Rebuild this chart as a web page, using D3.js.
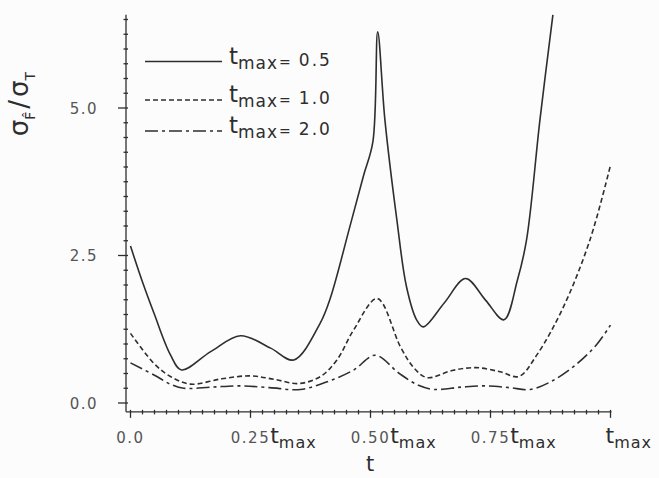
<!DOCTYPE html>
<html>
<head>
<meta charset="utf-8">
<script src="https://cdn.jsdelivr.net/npm/d3@7"></script>
<style>
  body { margin: 0; background: #fcfcfc; }
  svg { display: block; }
  text { font-family: "DejaVu Sans", sans-serif; }
</style>
</head>
<body>
<div class="chart"></div>
<script>
'use strict';

// t as fraction of t_max, sigma ratio
var solidT = [0, 0.025, 0.049, 0.083, 0.106, 0.167, 0.229, 0.292, 0.340, 0.395, 0.416, 0.457, 0.485, 0.505, 0.515, 0.530, 0.555, 0.575, 0.596, 0.610, 0.654, 0.698, 0.740, 0.778, 0.806, 0.825, 0.853, 0.880];
var solidV = [2.66, 2.05, 1.52, 0.82, 0.56, 0.87, 1.14, 0.93, 0.73, 1.35, 1.77, 2.99, 3.84, 4.43, 6.29, 4.80, 3.10, 1.97, 1.41, 1.29, 1.70, 2.11, 1.74, 1.41, 2.08, 2.76, 4.80, 6.58];

var dashedT = [0, 0.049, 0.083, 0.125, 0.19, 0.25, 0.30, 0.351, 0.396, 0.430, 0.465, 0.514, 0.5625, 0.59, 0.618, 0.67, 0.719, 0.77, 0.809, 0.847, 0.902, 0.957, 1.0];
var dashedV = [1.18, 0.67, 0.45, 0.32, 0.41, 0.46, 0.40, 0.33, 0.45, 0.73, 1.24, 1.77, 0.95, 0.60, 0.43, 0.55, 0.60, 0.53, 0.45, 0.82, 1.63, 2.76, 4.03];

var dashDotT = [0, 0.05, 0.083, 0.111, 0.17, 0.229, 0.29, 0.354, 0.41, 0.465, 0.51, 0.56, 0.60, 0.632, 0.69, 0.743, 0.79, 0.833, 0.88, 0.931, 0.97, 1.0];
var dashDotV = [0.68, 0.47, 0.32, 0.25, 0.27, 0.29, 0.26, 0.23, 0.36, 0.56, 0.81, 0.50, 0.30, 0.23, 0.27, 0.29, 0.26, 0.23, 0.38, 0.67, 0.98, 1.32];

var legendLabels = ['0.5', '1.0', '2.0'];
var yTickValues = [0, 2.5, 5.0];
var yTickLabels = ['0.0', '2.5', '5.0'];
var xTickValues = [0, 0.25, 0.5, 0.75, 1];
var xTickPrefix = ['0.0', '0.25', '0.50', '0.75', ''];
var xTickHasT = [false, true, true, true, true];

var width = 659,
    height = 478,
    ink = '#2e2e2e',
    grey = '#555';

var x = d3.scaleLinear().domain([0, 1]).range([130.5, 610.5]);
var y = d3.scaleLinear().domain([0, 5]).range([403, 108]);

var svg = d3.select('.chart').append('svg')
    .attr('width', width)
    .attr('height', height);

var series = [
    { t: solidT, v: solidV, dash: null },
    { t: dashedT, v: dashedV, dash: '5,3' },
    { t: dashDotT, v: dashDotV, dash: '13,4,3,4' }
];

drawAxes();
drawCurves();
drawLegend();
drawLabels();


//////////////////////////////////////////////////////
function drawAxes() {
    var axisX = 126,
        axisY = y(-0.15),
        topY = y(6.58),
        g = svg.append('g')
            .attr('stroke', ink)
            .attr('stroke-width', 1.3);

    g.append('line')
        .attr('x1', axisX).attr('x2', axisX)
        .attr('y1', topY).attr('y2', axisY);
    g.append('line')
        .attr('x1', axisX).attr('x2', x(1) + 1)
        .attr('y1', axisY).attr('y2', axisY);

    // y minor every 0.25, major at 0, 2.5, 5
    d3.range(0, 27).forEach(function(i) {
        var v = i * 0.25,
            major = yTickValues.indexOf(v) != -1;
        g.append('line')
            .attr('x1', major ? axisX - 8 : axisX - 2.5)
            .attr('x2', axisX + 2)
            .attr('y1', y(v)).attr('y2', y(v));
    });

    // x minor every 0.025 t_max
    d3.range(0, 41).forEach(function(i) {
        var f = i * 0.025,
            major = i % 10 == 0;
        g.append('line')
            .attr('x1', x(f)).attr('x2', x(f))
            .attr('y1', axisY - 2)
            .attr('y2', major ? axisY + 6 : axisY + 2.5);
    });
}

function drawCurves() {
    var line = d3.line()
        .x(function(d) { return x(d[0]); })
        .y(function(d) { return y(d[1]); })
        .curve(d3.curveCatmullRom.alpha(0.5));

    series.forEach(function(s) {
        var pts = s.t.map(function(t, i) { return [t, s.v[i]]; });
        svg.append('path')
            .attr('d', line(pts))
            .attr('fill', 'none')
            .attr('stroke', ink)
            .attr('stroke-width', 1.6)
            .attr('stroke-dasharray', s.dash);
    });
}

function tMax(sel, big, small) {
    sel.append('tspan').attr('font-size', big).text('t');
    sel.append('tspan').attr('font-size', small).attr('dy', 5).attr('letter-spacing', 1).text('max');
}

function drawLegend() {
    var rows = [61.5, 100, 131];

    series.forEach(function(s, i) {
        svg.append('line')
            .attr('x1', 145).attr('x2', 222)
            .attr('y1', rows[i]).attr('y2', rows[i])
            .attr('stroke', ink)
            .attr('stroke-width', 1.6)
            .attr('stroke-dasharray', s.dash);

        var txt = svg.append('text')
            .attr('x', 229)
            .attr('y', rows[i] + 2)
            .attr('fill', ink);
        tMax(txt, 23, 17);
        txt.append('tspan').attr('font-size', 14).attr('dy', -2).attr('dx', 1).text('=');
        txt.append('tspan').attr('font-size', 17).attr('dy', -1).attr('dx', 8)
            .attr('letter-spacing', 2).text(legendLabels[i]);
    });
}

function drawLabels() {
    yTickValues.forEach(function(v, i) {
        svg.append('text')
            .attr('x', 98)
            .attr('y', y(v) + 5.5)
            .attr('text-anchor', 'end')
            .attr('font-size', 15)
            .attr('letter-spacing', 1.5)
            .attr('fill', grey)
            .text(yTickLabels[i]);
    });

    xTickValues.forEach(function(f, i) {
        var cx = x(f),
            prefix = svg.append('text')
                .attr('y', 443)
                .attr('font-size', 15)
                .attr('letter-spacing', 1.5)
                .attr('fill', grey)
                .text(xTickPrefix[i]),
            w = xTickPrefix[i] ? prefix.node().getComputedTextLength() : 0,
            start = cx - w / 2;
        prefix.attr('x', start);
        if (!xTickHasT[i]) return;

        var t = svg.append('text')
            .attr('x', xTickPrefix[i] ? start + w : cx - 5)
            .attr('y', 443)
            .attr('fill', ink);
        tMax(t, 22, 16);
    });

    svg.append('text')
        .attr('x', 370)
        .attr('y', 471)
        .attr('text-anchor', 'middle')
        .attr('font-size', 21)
        .attr('fill', ink)
        .text('t');

    // sigma_F-hat / sigma_T, rotated
    var ylab = svg.append('text')
        .attr('transform', 'translate(28,104) rotate(-90)')
        .attr('text-anchor', 'middle')
        .attr('fill', ink);
    ylab.append('tspan').attr('font-size', 26).text('σ');
    ylab.append('tspan').attr('font-size', 14).attr('dy', 7).text('F\u0302');
    ylab.append('tspan').attr('font-size', 26).attr('dy', -7).attr('dx', 3).text('/');
    ylab.append('tspan').attr('font-size', 26).attr('dx', 3).text('σ');
    ylab.append('tspan').attr('font-size', 14).attr('dy', 7).text('T');
}
</script>
</body>
</html>
